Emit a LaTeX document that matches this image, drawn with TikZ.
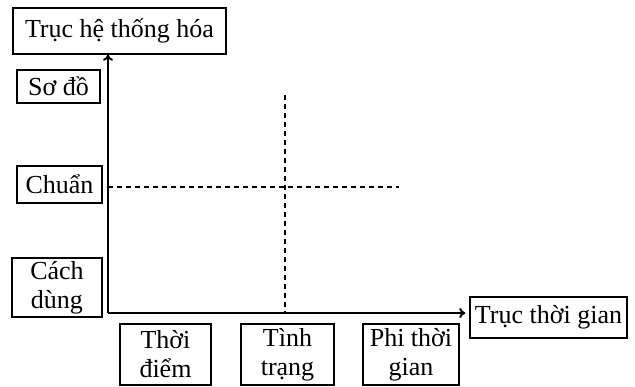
\documentclass[tikz,border=0pt]{standalone}
\usepackage{fontspec}
\setmainfont{Liberation Serif}
\usetikzlibrary{arrows.meta}
\begin{document}
\begin{tikzpicture}[x=1pt,y=-1pt,
  box/.style={draw=black,line width=1.5pt,rectangle,inner sep=0pt,align=center,
    font=\fontsize{26}{29}\selectfont},
  axis/.style={line width=2pt,-{To[length=6pt,width=10pt]}},
  guide/.style={line width=1.1pt,dash pattern=on 5pt off 4pt}]
\useasboundingbox (0,0) rectangle (635,386);
\node[box,minimum width=213pt,minimum height=46pt] (title) at (119.5,31) {Trục hệ thống hóa};
\node[box,minimum width=83pt,minimum height=33pt] (sodo) at (58.5,86.5) {Sơ đồ};
\node[box,minimum width=85pt,minimum height=37pt] (chuan) at (59.5,184.5) {Chuẩn};
\node[box,minimum width=90pt,minimum height=59pt] (cachdung) at (57,287.5) {Cách\\dùng};
\node[box,minimum width=91pt,minimum height=61pt] (thoidiem) at (165.5,354.5) {Thời\\điểm};
\node[box,minimum width=93pt,minimum height=61pt] (tinhtrang) at (287.5,354.5) {Tình\\trạng};
\node[box,minimum width=96pt,minimum height=61pt] (phi) at (411,354.5) {Phi thời\\gian};
\node[box,minimum width=157pt,minimum height=41pt] (trucTG) at (548.5,317.5) {Trục thời gian};
\coordinate (O) at (108,313);
\coordinate (vtop) at (285,95);
\coordinate (hend) at (399,187);
\draw[axis] (O) -- (O |- title.south);
\draw[axis,shorten >=4pt] (O) -- (O -| trucTG.west);
\draw[guide] (vtop) -- (vtop |- O);
\draw[guide] (O |- hend) -- (hend);
\end{tikzpicture}
\end{document}
